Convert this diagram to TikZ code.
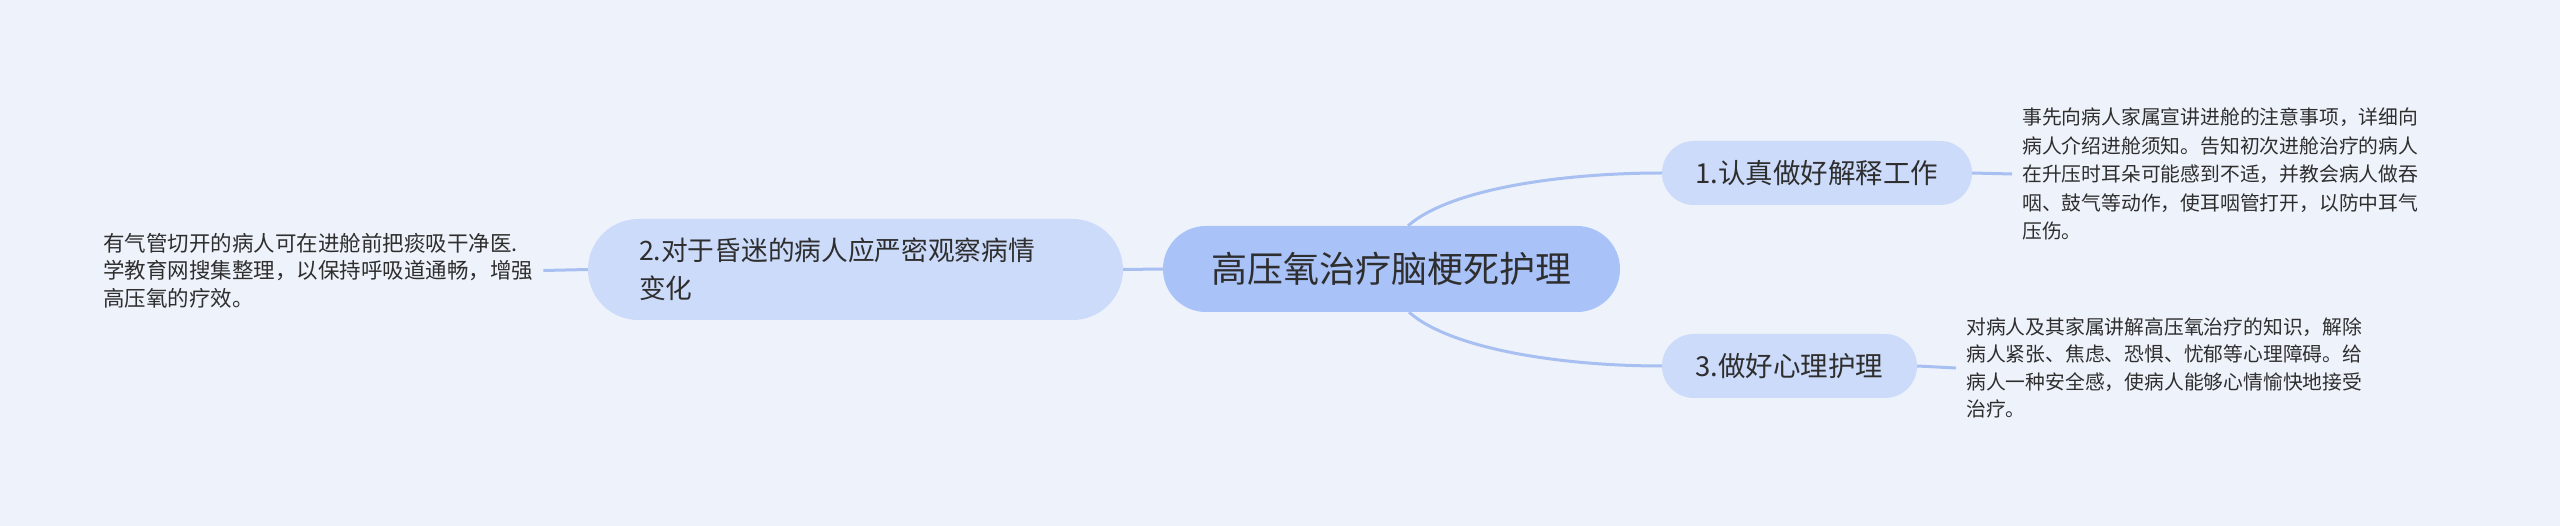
\documentclass[tikz,border=0pt]{standalone}
\usepackage{fontspec}
\setmainfont{Noto Sans CJK SC}
\definecolor{bgc}{HTML}{EEF3FB}
\definecolor{rootfill}{HTML}{A9C2F8}
\definecolor{branchfill}{HTML}{CCDBFA}
\definecolor{linec}{HTML}{A8BFF2}
\definecolor{textc}{HTML}{2E2E2E}
\begin{document}
\begin{tikzpicture}[x=1pt,y=-1pt,
  rootbox/.style={fill=rootfill, rounded corners=42.9pt, minimum width=457pt, minimum height=86pt, inner sep=0pt, text=textc, font=\fontsize{36}{40}\selectfont},
  branchbox/.style={fill=branchfill, rounded corners=31.9pt, minimum height=64pt, inner sep=0pt, text=textc, font=\fontsize{27.5}{35}\selectfont},
  leafnote/.style={align=left, inner xsep=10pt, inner ysep=0pt, text=textc},
  link/.style={draw=linec, line width=3pt}]
\fill[bgc] (0,0) rectangle (2560,526);
\node[rootbox] (root) at (1391.5,269) {高压氧治疗脑梗死护理};
\node[branchbox, minimum width=535pt, minimum height=101pt, rounded corners=50.4pt, align=left, text width=433pt, font=\fontsize{26.7}{38}\selectfont] (b2) at (855.5,269.5) {2.对于昏迷的病人应严密观察病情\\变化};
\node[branchbox, minimum width=310pt] (b1) at (1817,173) {1.认真做好解释工作};
\node[branchbox, minimum width=255pt] (b3) at (1789.5,366) {3.做好心理护理};
\node[leafnote, anchor=west, font=\fontsize{21.5}{27.5}\selectfont] (l2) at (93,270.5) {有气管切开的病人可在进舱前把痰吸干净医.\\学教育网搜集整理，以保持呼吸道通畅，增强\\高压氧的疗效。};
\node[leafnote, anchor=west, font=\fontsize{19.8}{28.5}\selectfont] (l1) at (2012,174) {事先向病人家属宣讲进舱的注意事项，详细向\\病人介绍进舱须知。告知初次进舱治疗的病人\\在升压时耳朵可能感到不适，并教会病人做吞\\咽、鼓气等动作，使耳咽管打开，以防中耳气\\压伤。};
\node[leafnote, anchor=west, font=\fontsize{19.8}{27.5}\selectfont] (l3) at (1956,368) {对病人及其家属讲解高压氧治疗的知识，解除\\病人紧张、焦虑、恐惧、忧郁等心理障碍。给\\病人一种安全感，使病人能够心情愉快地接受\\治疗。};
\draw[link] (root.west) -- (b2.east);
\draw[link] (b2.west) -- (l2.east);
\draw[link] (b1.east) -- (l1.west);
\draw[link] (b3.east) -- (l3.west);
\draw[link] ([xshift=16.5pt]root.north) .. controls +(42,-37) and +(-100,0) .. (b1.west);
\draw[link] ([xshift=17.5pt]root.south) .. controls +(42,37) and +(-100,0) .. (b3.west);
\end{tikzpicture}
\end{document}
